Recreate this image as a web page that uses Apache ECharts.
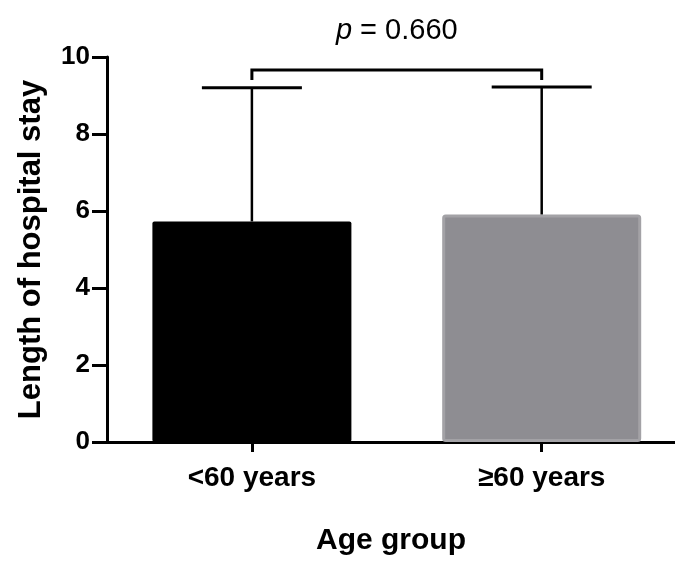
<!DOCTYPE html>
<html>
<head>
<meta charset="utf-8">
<script src="https://cdn.jsdelivr.net/npm/echarts@6/dist/echarts.min.js"></script>
<style>
  html, body { margin: 0; padding: 0; background: #fff; }
  #chart { width: 675px; height: 561px; }
</style>
</head>
<body>
<div id="chart"></div>
<script>
// data
var categories = ['<60 years', '≥60 years'];
var means = [5.73, 5.91];
var sdTop = [9.2, 9.22];          // mean + SD
var barColors = ['#000000', '#8e8d92'];
var pText = '0.660';
var bracketY = 9.66;
var yTicks = [0, 2, 4, 6, 8, 10];

var font = '"Liberation Sans", Arial, sans-serif';

var barData = categories.map(function (c, i) {
  return {
    value: [i, means[i]],
    itemStyle: {
      color: barColors[i],
      borderColor: i === 0 ? '#000' : '#a3a2a6',
      borderWidth: i === 0 ? 0 : 3,
      borderRadius: 2
    }
  };
});
var errData = categories.map(function (c, i) { return [i, means[i], sdTop[i]]; });

var chart = echarts.init(document.getElementById('chart'));
var option = {
  animation: false,
  grid: { left: 107, right: 0, top: 57, bottom: 118 },
  xAxis: {
    type: 'value',
    min: -0.5,
    max: 1.46,
    splitLine: { show: false },
    axisLine: { show: true, lineStyle: { color: '#000', width: 3 } },
    axisTick: { show: true, customValues: [0, 1], length: 10, lineStyle: { color: '#000', width: 3 } },
    axisLabel: {
      customValues: [0, 1],
      formatter: function (v) { return categories[Math.round(v)]; },
      color: '#000', fontFamily: font, fontWeight: 'bold', fontSize: 28, margin: 22
    },
    name: 'Age group',
    nameLocation: 'middle',
    nameGap: 84,
    nameTextStyle: { color: '#000', fontFamily: font, fontWeight: 'bold', fontSize: 30 }
  },
  yAxis: {
    type: 'value',
    min: 0,
    max: 10,
    interval: 2,
    customValues: yTicks,
    splitLine: { show: false },
    axisLine: { show: true, onZero: false, lineStyle: { color: '#000', width: 3 } },
    axisTick: { show: true, length: 15, lineStyle: { color: '#000', width: 3 } },
    axisLabel: { color: '#000', fontFamily: font, fontWeight: 'bold', fontSize: 26, margin: 17 },
    name: 'Length of hospital stay',
    nameLocation: 'middle',
    nameGap: 60,
    nameTextStyle: { color: '#000', fontFamily: font, fontWeight: 'bold', fontSize: 31 }
  },
  series: [
    {
      type: 'bar',
      barWidth: 199,
      data: barData,
      z: 2
    },
    {
      // error bars (upper only)
      type: 'custom',
      data: errData,
      z: 3,
      renderItem: function (params, api) {
        var x = api.value(0);
        var lo = api.coord([x, api.value(1)]);
        var hi = api.coord([x, api.value(2)]);
        return {
          type: 'group',
          children: [
            { type: 'line', shape: { x1: lo[0], y1: lo[1], x2: hi[0], y2: hi[1] }, style: { stroke: '#000', lineWidth: 2.5 } },
            { type: 'line', shape: { x1: hi[0] - 50, y1: hi[1], x2: hi[0] + 50, y2: hi[1] }, style: { stroke: '#000', lineWidth: 3 } }
          ]
        };
      }
    },
    {
      // significance bracket
      type: 'custom',
      data: [[0, 1, bracketY]],
      z: 3,
      renderItem: function (params, api) {
        var a = api.coord([api.value(0), api.value(2)]);
        var b = api.coord([api.value(1), api.value(2)]);
        return {
          type: 'group',
          children: [
            {
              type: 'polyline',
              shape: { points: [[a[0], a[1] + 10], [a[0], a[1]], [b[0], b[1]], [b[0], b[1] + 10]] },
              style: { stroke: '#000', lineWidth: 3, fill: null }
            },
            {
              type: 'text',
              x: (a[0] + b[0]) / 2,
              y: a[1] - 39,
              style: {
                text: '{i|p} = ' + pText,
                align: 'center',
                verticalAlign: 'middle',
                fill: '#000',
                font: '29px ' + font,
                rich: { i: { fontStyle: 'italic', fontSize: 29, fontFamily: font, fill: '#000' } }
              }
            }
          ]
        };
      }
    }
  ]
};
chart.setOption(option);
</script>
</body>
</html>
